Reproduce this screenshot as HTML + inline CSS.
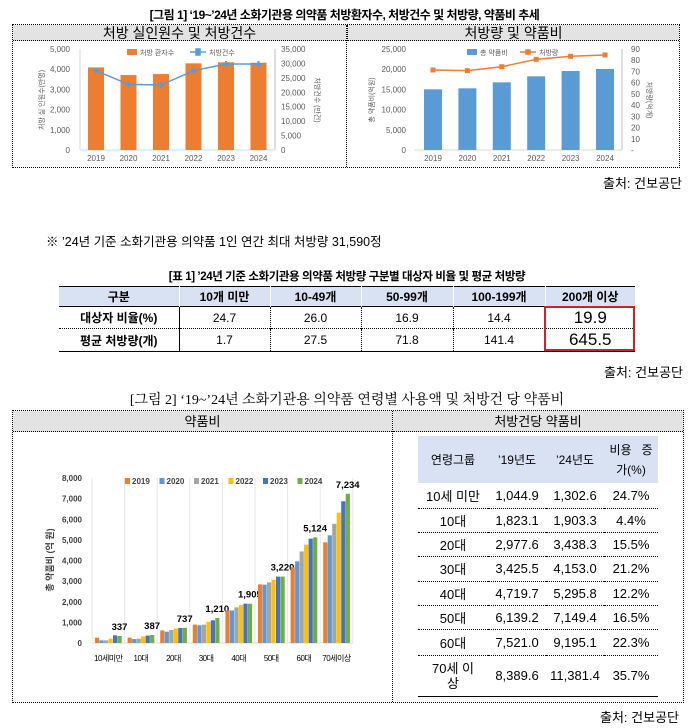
<!DOCTYPE html>
<html><head><meta charset="utf-8">
<style>
*{margin:0;padding:0;box-sizing:border-box}
body{width:689px;height:728px;background:#fff;position:relative;overflow:hidden;font-family:"Liberation Sans","Noto Sans CJK KR",sans-serif;color:#000}
.a{position:absolute;white-space:nowrap}
.box{position:absolute;border:1px dotted #000}
.hd{position:absolute;background:#e3e3e3;border-bottom:1px dotted #000;text-align:center}
table{border-collapse:collapse;position:absolute}
svg{position:absolute;left:0;top:0}
svg text{font-family:"Liberation Sans","Noto Sans CJK KR",sans-serif}
</style></head><body>
<div class="a" style="left:0;width:689px;text-align:center;top:6px;font-size:12px;font-weight:bold;letter-spacing:-0.5px">[그림 1] ‘19~’24년 소화기관용 의약품 처방환자수, 처방건수 및 처방량, 약품비 추세</div>
<div class="box" style="left:12px;top:24px;width:668px;height:144px"></div>
<div class="hd" style="left:13px;top:25px;width:333px;height:16px;font-size:14px;line-height:16px">처방 실인원수 및 처방건수</div>
<div class="hd" style="left:347px;top:25px;width:332px;height:16px;font-size:14px;line-height:16px;border-left:1px dotted #000">처방량 및 약품비</div>
<div class="a" style="left:346px;top:25px;height:142px;border-left:1px dotted #000"></div>
<svg id="c1" width="689" height="728"></svg>
<div class="a" style="right:7px;top:173px;font-size:13px">출처: 건보공단</div>

<div class="a" style="left:46px;top:231px;font-size:12.5px">※ ’24년 기준 소화기관용 의약품 1인 연간 최대 처방량 31,590정</div>
<div class="a" style="left:0;width:694px;text-align:center;top:268px;font-size:11.5px;font-weight:bold;letter-spacing:-0.4px">[표 1] ’24년 기준 소화기관용 의약품 처방량 구분별 대상자 비율 및 평균 처방량</div>
<table style="left:59px;top:286px;width:576px;font-size:12px;text-align:center">
<tr style="background:#d9e2f3;height:20px;font-weight:bold;border-top:1px solid #000;border-bottom:1px solid #000"><td style="width:120px;border-right:1px solid #fff">구분</td><td style="width:91px;border-right:1px solid #fff">10개 미만</td><td style="width:91px;border-right:1px solid #fff">10-49개</td><td style="width:92px;border-right:1px solid #fff">50-99개</td><td style="width:92px;border-right:1px solid #fff">100-199개</td><td>200개 이상</td></tr>
<tr style="height:22px;border-bottom:1px dotted #000"><td style="font-weight:bold;border-right:1px solid #000">대상자 비율(%)</td><td style="border-right:1px dotted #000">24.7</td><td style="border-right:1px dotted #000">26.0</td><td style="border-right:1px dotted #000">16.9</td><td style="border-right:1px dotted #000">14.4</td><td style="font-size:17px">19.9</td></tr>
<tr style="height:23px;border-bottom:1px solid #000"><td style="font-weight:bold;border-right:1px solid #000">평균 처방량(개)</td><td style="border-right:1px dotted #000">1.7</td><td style="border-right:1px dotted #000">27.5</td><td style="border-right:1px dotted #000">71.8</td><td style="border-right:1px dotted #000">141.4</td><td style="font-size:17px">645.5</td></tr>
</table>
<div class="a" style="left:544px;top:306px;width:91px;height:45px;border:2px solid #d0202a"></div>
<div class="a" style="right:6px;top:362px;font-size:13px">출처: 건보공단</div>

<div class="a" style="left:0;width:694px;text-align:center;top:389px;font-size:14px;font-family:'Liberation Serif','Noto Serif CJK SC',serif">[그림 2] ‘19~’24년 소화기관용 의약품 연령별 사용액 및 처방건 당 약품비</div>
<div class="box" style="left:12px;top:410px;width:672px;height:293px"></div>
<div class="hd" style="left:13px;top:411px;width:379px;height:21px;font-size:13px;line-height:21px">약품비</div>
<div class="hd" style="left:393px;top:411px;width:290px;height:21px;font-size:13px;line-height:21px">처방건당 약품비</div>
<div class="a" style="left:392px;top:411px;height:291px;border-left:1px dotted #000"></div>
<table style="left:418px;top:436px;width:240px;font-size:13px;text-align:center">
<tr style="background:#d9e2f3;height:47px;font-size:12px"><td style="width:70px">연령그룹</td><td style="width:58px">’19년도</td><td style="width:58px">’24년도</td><td style="line-height:20px">비용 &nbsp;&nbsp;증<br>가(%)</td></tr>
<tr style="height:25px;border-bottom:1px dotted #000"><td>10세 미만</td><td>1,044.9</td><td>1,302.6</td><td>24.7%</td></tr>
<tr style="height:24px;border-bottom:1px dotted #000"><td>10대</td><td>1,823.1</td><td>1,903.3</td><td>4.4%</td></tr>
<tr style="height:24px;border-bottom:1px dotted #000"><td>20대</td><td>2,977.6</td><td>3,438.3</td><td>15.5%</td></tr>
<tr style="height:25px;border-bottom:1px dotted #000"><td>30대</td><td>3,425.5</td><td>4,153.0</td><td>21.2%</td></tr>
<tr style="height:24px;border-bottom:1px dotted #000"><td>40대</td><td>4,719.7</td><td>5,295.8</td><td>12.2%</td></tr>
<tr style="height:24px;border-bottom:1px dotted #000"><td>50대</td><td>6,139.2</td><td>7,149.4</td><td>16.5%</td></tr>
<tr style="height:26px;border-bottom:1px dotted #000"><td>60대</td><td>7,521.0</td><td>9,195.1</td><td>22.3%</td></tr>
<tr style="height:41px;border-bottom:1px solid #000"><td style="line-height:15px">70세 이<br>상</td><td>8,389.6</td><td>11,381.4</td><td>35.7%</td></tr>
</table>
<div class="a" style="right:10px;top:707px;font-size:13px">출처: 건보공단</div>

<script>
const years = ['2019','2020','2021','2022','2023','2024'];
const patients = [4090,3710,3760,4290,4340,4320];
const prescriptions = [27480,22760,22520,27480,29800,29800];
const drugCost = [15020,15270,16750,18240,19550,20050];
const volume = [71.3,70.7,74.2,80.8,83.5,84.7];
const leftTicks1 = ['0','1,000','2,000','3,000','4,000','5,000'];
const rightTicks1 = ['0','5,000','10,000','15,000','20,000','25,000','30,000','35,000'];
const leftTicks2 = ['0','5,000','10,000','15,000','20,000','25,000'];
const rightTicks2 = ['-','10','20','30','40','50','60','70','80','90'];
const ages = ['10세미만','10대','20대','30대','40대','50대','60대','70세이상'];
const s2019 = [260,260,610,890,1580,2840,3680,4880];
const s2020 = [130,190,550,860,1580,2830,3960,5220];
const s2021 = [130,210,630,890,1730,2940,4440,5780];
const s2022 = [210,320,700,1030,1840,3070,4770,6320];
const s2023 = [370,360,730,1100,1910,3220,5060,6870];
const s2024 = [337,387,737,1210,1905,3220,5124,7234];
const ageTicks = ['0','1,000','2,000','3,000','4,000','5,000','6,000','7,000','8,000'];
const yearLabels = ['2019','2020','2021','2022','2023','2024'];

const NS='http://www.w3.org/2000/svg';
const svg=document.getElementById('c1');
function mk(tag,attrs,txt){const e=document.createElementNS(NS,tag);for(const k in attrs)e.setAttribute(k,attrs[k]);if(txt!==undefined)e.textContent=txt;svg.appendChild(e);return e;}

(function(){
  const y0=150,y1=49,x0=80,step=32.5;
  const yL=v=>y0-(v/5000)*(y0-y1), yR=v=>y0-(v/35000)*(y0-y1), xc=i=>x0+16+i*step;
  leftTicks1.forEach((t,i)=>{const e=mk('text',{x:70,y:yL(i*1000)+3,'font-size':8,fill:'#595959','text-anchor':'end'},t);
    
    });
  rightTicks1.forEach((t,i)=>{const e=mk('text',{x:281,y:yR(i*5000)+3,'font-size':8,fill:'#595959'},t);
    
    });
  let e=mk('line',{x1:x0,x2:x0,y1:y1,y2:y0,stroke:'#d9d9d9'});
  
  
  e=mk('line',{x1:275,x2:275,y1:y1,y2:y0,stroke:'#bfbfbf'});
  
  
  e=mk('line',{x1:x0,x2:275,y1:y0,y2:y0,stroke:'#d9d9d9'});
  
  
  years.forEach((y,i)=>{
    const b=mk('rect',{x:xc(i)-8,y:yL(patients[i]),width:16,height:y0-yL(patients[i]),fill:'#ed7d31'});
    
    
    const t=mk('text',{x:xc(i),y:161,'font-size':8,fill:'#595959','text-anchor':'middle'},yearLabels[i]);
    
    
  });
  const pl=mk('polyline',{points:prescriptions.map((v,i)=>xc(i)+','+yR(v)).join(' '),fill:'none',stroke:'#5b9bd5','stroke-width':1.5});
  
  
  prescriptions.forEach((v,i)=>{const p=mk('path',{d:`M${xc(i)-3},${yR(v)}h6M${xc(i)},${yR(v)-3}v6`,stroke:'#5b9bd5','stroke-width':2});
    
    });
  e=mk('text',{x:0,y:0,'font-size':7,fill:'#595959','text-anchor':'middle',transform:'translate(44,100) rotate(-90)'},'처방 실 인원수(만명)');
  
  
  e=mk('text',{x:0,y:0,'font-size':7,fill:'#595959','text-anchor':'middle',transform:'translate(315,100) rotate(90)'},'처방건수 (만건)');
  
  
  e=mk('rect',{x:127,y:49,width:10,height:6,fill:'#ed7d31'});
  
  
  e=mk('text',{x:140,y:55,'font-size':7,fill:'#595959'},'처방 환자수');
  
  
  e=mk('path',{d:'M190,52h16M196,49h4v6h-4z',stroke:'#5b9bd5','stroke-width':1.5,fill:'#5b9bd5'});
  
  
  e=mk('text',{x:209,y:55,'font-size':7,fill:'#595959'},'처방건수');
  
  
})();

(function(){
  const y0=150,y1=49,x0=414,step=34.4;
  const yL=v=>y0-(v/25000)*(y0-y1), yR=v=>y0-(v/90)*(y0-y1), xc=i=>x0+19+i*step;
  leftTicks2.forEach((t,i)=>{const e=mk('text',{x:406,y:yL(i*5000)+3,'font-size':8,fill:'#595959','text-anchor':'end'},t);
    
    });
  rightTicks2.forEach((t,i)=>{const e=mk('text',{x:631,y:yR(i*10)+3,'font-size':8,fill:'#595959'},t);
    
    });
  let e=mk('line',{x1:622,x2:622,y1:y1,y2:y0,stroke:'#bfbfbf'});
  
  
  e=mk('line',{x1:x0,x2:622,y1:y0,y2:y0,stroke:'#d9d9d9'});
  
  
  years.forEach((y,i)=>{
    const b=mk('rect',{x:xc(i)-9,y:yL(drugCost[i]),width:18,height:y0-yL(drugCost[i]),fill:'#5b9bd5'});
    
    
    const t=mk('text',{x:xc(i),y:161,'font-size':8,fill:'#595959','text-anchor':'middle'},yearLabels[i]);
    
    
  });
  const pl=mk('polyline',{points:volume.map((v,i)=>xc(i)+','+yR(v)).join(' '),fill:'none',stroke:'#ed7d31','stroke-width':1.5});
  
  
  volume.forEach((v,i)=>{const p=mk('rect',{x:xc(i)-2.5,y:yR(v)-2.5,width:5,height:5,fill:'#ed7d31'});
    
    });
  e=mk('text',{x:0,y:0,'font-size':7,fill:'#595959','text-anchor':'middle',transform:'translate(374,100) rotate(-90)'},'총 약품비(억원)');
  
  
  e=mk('text',{x:0,y:0,'font-size':7,fill:'#595959','text-anchor':'middle',transform:'translate(647,100) rotate(90)'},'처방량(억개)');
  
  
  e=mk('rect',{x:467,y:49,width:10,height:6,fill:'#5b9bd5'});
  
  
  e=mk('text',{x:480,y:55,'font-size':7,fill:'#595959'},'총 약품비');
  
  
  e=mk('path',{d:'M520,52h16M526,50h4v4h-4z',stroke:'#ed7d31','stroke-width':1.5,fill:'#ed7d31'});
  
  
  e=mk('text',{x:539,y:55,'font-size':7,fill:'#595959'},'처방량');
  
  
})();

(function(){
  const y0=643,y1=478,x0=92,cw=32.6,bw=4.5;
  const y=v=>y0-(v/8000)*(y0-y1);
  const series=[s2019,s2020,s2021,s2022,s2023,s2024];
  const colors=['#ed7d31','#5b9bd5','#a5a5a5','#ffc000','#4472c4','#70ad47'];
  ageTicks.forEach((t,i)=>{const e=mk('text',{x:82,y:y(i*1000)+3,'font-size':8,'font-weight':'bold',fill:'#404040','text-anchor':'end'},t);
    
    });
  for(let i=0;i<=ages.length;i++){const g=mk('line',{x1:x0+i*cw,x2:x0+i*cw,y1:y1,y2:y0,stroke:'#e6e6e6'});
    
    }
  let e=mk('line',{x1:x0,x2:x0+8*cw,y1:y0,y2:y0,stroke:'#d9d9d9'});
  
  
  ages.forEach((a,i)=>{
    const gx=x0+i*cw+3;
    series.forEach((s,k)=>{
      const b=mk('rect',{x:gx+k*bw,y:y(s[i]),width:bw-0.3,height:y0-y(s[i]),fill:colors[k]});
      
      
    });
    const t=mk('text',{x:x0+i*cw+cw/2,y:661,'font-size':8,fill:'#000','text-anchor':'middle','letter-spacing':'-0.5'},a);
    
    
    const lv=s2024[i];
    const l=mk('text',{x:gx+5*bw+2,y:y(lv)-6,'font-size':9.5,'font-weight':'bold',fill:'#000','text-anchor':'middle'},lv.toLocaleString('en-US'));
    
    
  });
  e=mk('text',{x:0,y:0,'font-size':9,'font-weight':'bold',fill:'#404040','text-anchor':'middle',transform:'translate(53,560) rotate(-90)'},'총 약품비 (억 원)');
  
  
  years.forEach((yr,k)=>{
    const lx=125+k*34.5;
    const r=mk('rect',{x:lx,y:478,width:5,height:6,fill:colors[k]});
    
    
    const t=mk('text',{x:lx+7,y:484,'font-size':8,'font-weight':'bold',fill:'#404040'},yr);
    
    
  });
})();
</script>
</body></html>
